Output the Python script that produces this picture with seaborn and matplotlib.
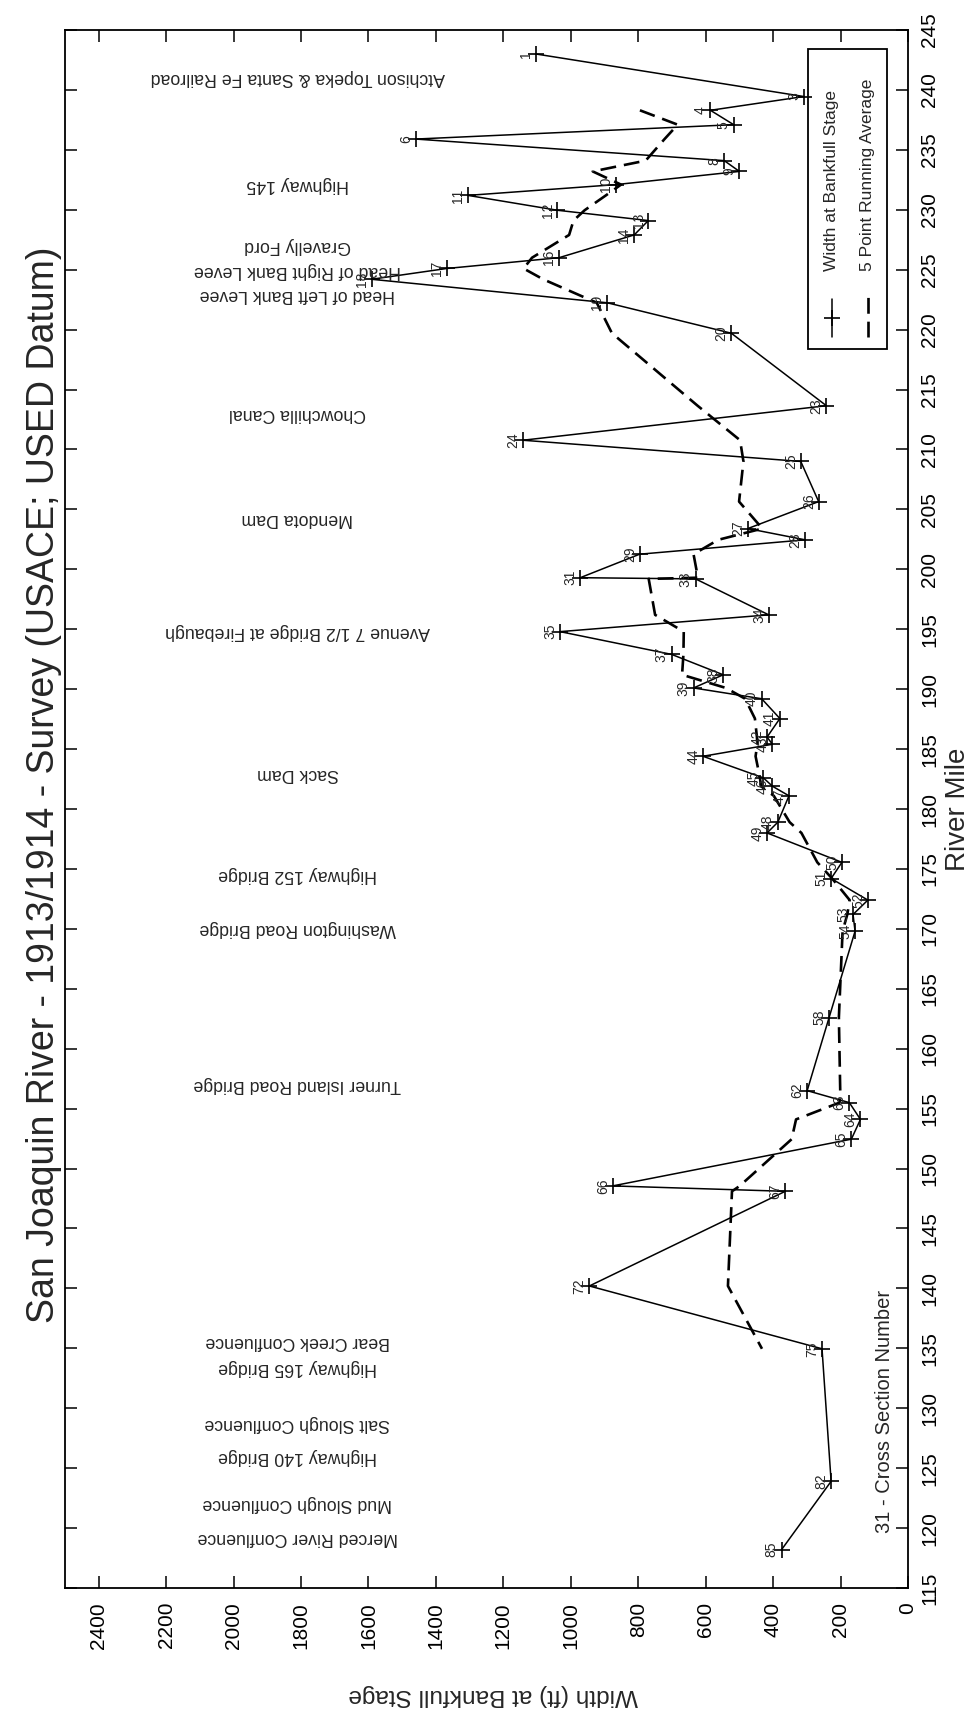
import matplotlib
matplotlib.use("Agg")
import matplotlib.pyplot as plt
import seaborn as sns
import pandas as pd
from matplotlib.patches import Rectangle

# Cross sections surveyed along the river (1913/1914)
sections = [1, 3, 4, 5, 6, 8, 9, 10, 11, 12, 13, 14, 16, 17, 18, 19, 20, 23, 24, 25,
            26, 27, 28, 29, 31, 33, 34, 35, 37, 38, 39, 40, 41, 42, 43, 44, 45, 46, 47, 48,
            49, 50, 51, 52, 53, 54, 58, 62, 63, 64, 65, 66, 67, 72, 75, 82, 85]
river_mile = [243.0, 239.45, 238.3, 237.1, 235.9, 234.1, 233.2, 232.1, 231.2, 229.96,
              229.1, 227.9, 226.0, 225.1, 224.2, 222.24, 219.7, 213.65, 210.77, 209.0,
              205.65, 203.4, 202.46, 201.26, 199.3, 199.2, 196.2, 194.8, 192.9, 191.2,
              190.1, 189.2, 187.55, 186.0, 185.4, 184.4, 182.6, 181.9, 181.1, 178.9,
              178.0, 175.55, 174.2, 172.4, 171.2, 169.8, 162.6, 156.5, 155.5, 154.1,
              152.45, 148.55, 148.1, 140.2, 134.96, 123.9, 118.2]
bankfull_width = [1104, 309, 586, 517, 1460, 545, 500, 866, 1305, 1040,
                  770, 812, 1035, 1368, 1591, 892, 524, 242, 1142, 318,
                  265, 475, 305, 796, 972, 630, 413, 1032, 701, 548,
                  636, 434, 380, 418, 402, 608, 429, 402, 353, 386,
                  418, 196, 228, 119, 163, 157, 234, 299, 174, 141,
                  168, 876, 364, 945, 255, 228, 375]

# 5 point running average, plotted at the centre section (sections 4 .. 75)
running_avg = [795, 683, 722, 778, 935, 851, 896, 959, 992, 1005,
               1115, 1140, 1082, 923, 878, 624, 498, 488, 501, 432,
               563, 636, 623, 769, 750, 665, 666, 670, 540, 483,
               454, 448, 447, 452, 439, 436, 398, 351, 316, 269,
               225, 173, 180, 194, 205, 201, 203, 332, 345, 499,
               522, 534, 433]

landmarks = ["Atchison Topeka & Santa Fe Railroad", "Highway 145", "Gravelly Ford",
             "Head of Right Bank Levee", "Head of Left Bank Levee", "Chowchilla Canal",
             "Mendota Dam", "Avenue 7 1/2 Bridge at Firebaugh", "Sack Dam",
             "Highway 152 Bridge", "Washington Road Bridge", "Turner Island Road Bridge",
             "Bear Creek Confluence", "Highway 165 Bridge", "Salt Slough Confluence",
             "Highway 140 Bridge", "Mud Slough Confluence", "Merced River Confluence"]
landmark_mile = [241.0, 232.1, 227.0, 224.9, 222.9, 213.0, 204.25, 194.8, 183.0,
                 174.5, 170.0, 157.0, 135.6, 133.4, 128.7, 126.0, 122.05, 119.2]

width_ticks = list(range(0, 2401, 200))
mile_ticks = list(range(115, 246, 5))

sns.set_theme(style="white")
plt.rcParams["font.family"] = ["Liberation Sans", "DejaVu Sans"]

df = pd.DataFrame({"section": sections, "mile": river_mile, "width": bankfull_width})
df_avg = pd.DataFrame({"mile": river_mile[2:-2], "width": running_avg})

W, H = 974, 1717
fig = plt.figure(figsize=(W / 100, H / 100), dpi=100)
left, right, top, bottom = 65, 908, 30, 1588
ax = fig.add_axes([left / W, 1 - bottom / H, (right - left) / W, (bottom - top) / H])

sns.lineplot(data=df, x="width", y="mile", sort=False, estimator=None, orient="y",
             color="black", linewidth=1.1, marker="+", markersize=12,
             markeredgewidth=1.2, markeredgecolor="black", ax=ax, legend=False)
sns.lineplot(data=df_avg, x="width", y="mile", sort=False, estimator=None, orient="y",
             color="black", linewidth=1.9, linestyle=(0, (6, 3)), ax=ax, legend=False)

# cross-section numbers beside each point
for n, m, w in zip(sections, river_mile, bankfull_width):
    ax.annotate(str(n), (w, m), xytext=(-2, 0), textcoords="offset points",
                rotation=90, ha="right", va="center", fontsize=10)

# landmarks along the river
for name, m in zip(landmarks, landmark_mile):
    ax.text(1810, m, name, rotation=180, ha="center", va="center", fontsize=12.8)

ax.text(70, 119.6, "31 - Cross Section Number", rotation=90, ha="center",
        va="bottom", fontsize=14.5)

ax.set_xlim(2500, 0)
ax.set_ylim(115, 245)
ax.set_xticks(width_ticks)
ax.set_yticks(mile_ticks)
ax.yaxis.tick_right()
ax.yaxis.set_label_position("right")
ax.tick_params(direction="in", length=8.5, width=1.1, color="black",
               top=True, bottom=True, left=True, right=True,
               labelleft=False, labelright=True, labeltop=False, labelbottom=True,
               labelsize=15, labelcolor="black")
ax.tick_params(axis="x", pad=10, labelrotation=90)
ax.tick_params(axis="y", pad=9, labelrotation=90)
for lab in ax.get_yticklabels():
    lab.set_va("center")
for sp in ax.spines.values():
    sp.set_color("black")
    sp.set_linewidth(1.3)

ax.set_xlabel("Width (ft) at Bankfull Stage", rotation=180, fontsize=17.6)
ax.xaxis.set_label_coords(0.508, -0.0616)
ax.set_ylabel("River Mile", rotation=90, fontsize=20, labelpad=4)

# legend box, drawn upright in the rotated layout
tr = ax.transAxes
ax.add_patch(Rectangle((0.881, 0.795), 0.094, 0.193, transform=tr, fill=False,
                       edgecolor="black", linewidth=1.3, zorder=5))
ax.plot([0.9097, 0.9097], [0.8032, 0.8276], transform=tr, color="black", lw=1.1, zorder=6)
ax.plot([0.9097], [0.8154], transform=tr, color="black", marker="+", markersize=12,
        markeredgewidth=1.2, zorder=6)
ax.plot([0.952, 0.952], [0.8032, 0.8288], transform=tr, color="black", lw=1.9,
        linestyle=(0, (6, 3)), zorder=6)
ax.text(0.9097, 0.8455, "Width at Bankfull Stage", transform=tr, rotation=90,
        ha="center", va="bottom", fontsize=12.5)
ax.text(0.952, 0.8455, "5 Point Running Average", transform=tr, rotation=90,
        ha="center", va="bottom", fontsize=12.5)

fig.text(44 / W, 1 - 785 / H, "San Joaquin River - 1913/1914 - Survey (USACE; USED Datum)",
         rotation=90, ha="center", va="center", fontsize=27)

fig.savefig("out.png", dpi=100, facecolor="white")
